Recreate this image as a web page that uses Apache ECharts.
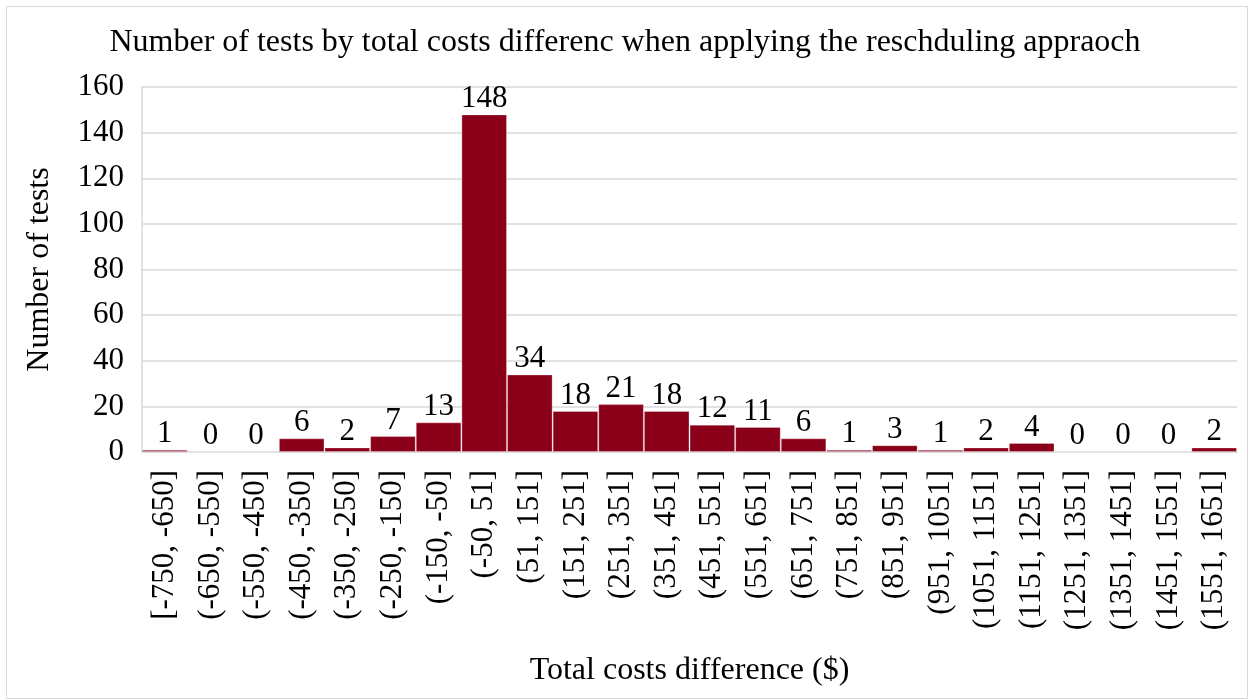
<!DOCTYPE html>
<html>
<head>
<meta charset="utf-8">
<style>
  html, body { margin: 0; padding: 0; background: #ffffff; }
  #chart { width: 1250px; height: 700px; }
</style>
<script src="https://cdn.jsdelivr.net/npm/echarts@6/dist/echarts.min.js"></script>
</head>
<body>
<div id="chart"></div>
<script>
// Cost-difference bins (in $) and the number of tests in each
const categories = [
  '[-750, -650]', '(-650, -550]', '(-550, -450]', '(-450, -350]', '(-350, -250]',
  '(-250, -150]', '(-150, -50]', '(-50, 51]', '(51, 151]', '(151, 251]',
  '(251, 351]', '(351, 451]', '(451, 551]', '(551, 651]', '(651, 751]',
  '(751, 851]', '(851, 951]', '(951, 1051]', '(1051, 1151]', '(1151, 1251]',
  '(1251, 1351]', '(1351, 1451]', '(1451, 1551]', '(1551, 1651]'
];
const testCounts = [1, 0, 0, 6, 2, 7, 13, 148, 34, 18, 21, 18, 12, 11, 6, 1, 3, 1, 2, 4, 0, 0, 0, 2];
const yTicks = { min: 0, max: 160, interval: 20 };

const FONT = '"Liberation Serif", "Times New Roman", serif';

const chart = echarts.init(document.getElementById('chart'), null, { renderer: 'canvas' });
chart.setOption({
  animation: false,
  backgroundColor: '#ffffff',
  title: {
    text: 'Number of tests by total costs differenc when applying the reschduling appraoch',
    left: 'center',
    top: 22,
    textStyle: { fontFamily: FONT, fontSize: 32, fontWeight: 'normal', color: '#000000' }
  },
  graphic: [{
    type: 'rect',
    shape: { x: 6.5, y: 6.5, width: 1241, height: 692 },
    style: { fill: 'none', stroke: '#d9d9d9', lineWidth: 1 },
    silent: true
  }],
  grid: { left: 142, right: 13, top: 87, bottom: 248, containLabel: false },
  xAxis: {
    type: 'category',
    data: categories,
    name: 'Total costs difference ($)',
    nameLocation: 'middle',
    nameGap: 203,
    nameTextStyle: { fontFamily: FONT, fontSize: 32, color: '#000000' },
    axisLine: { show: true, lineStyle: { color: '#d9d9d9', width: 1.5 } },
    axisTick: { show: false },
    axisLabel: {
      interval: 0,
      rotate: 90,
      margin: 18,
      fontFamily: FONT,
      fontSize: 31,
      color: '#000000'
    }
  },
  yAxis: {
    type: 'value',
    min: yTicks.min,
    max: yTicks.max,
    interval: yTicks.interval,
    name: 'Number of tests',
    nameLocation: 'middle',
    nameGap: 86,
    nameRotate: 90,
    nameTextStyle: { fontFamily: FONT, fontSize: 32, color: '#000000' },
    axisLine: { show: true, lineStyle: { color: '#d9d9d9', width: 1.5 } },
    axisTick: { show: false },
    axisLabel: { margin: 18, fontFamily: FONT, fontSize: 31, color: '#000000' },
    splitLine: { show: true, lineStyle: { color: '#d9d9d9', width: 1.5 } }
  },
  series: [{
    type: 'bar',
    data: testCounts,
    barCategoryGap: '0%',
    itemStyle: {
      color: '#8b0019',
      borderColor: 'rgba(255,255,255,0.3)',
      borderWidth: 1
    },
    label: {
      show: true,
      position: 'top',
      distance: 0,
      fontFamily: FONT,
      fontSize: 31,
      color: '#000000'
    }
  }]
});
</script>
</body>
</html>
